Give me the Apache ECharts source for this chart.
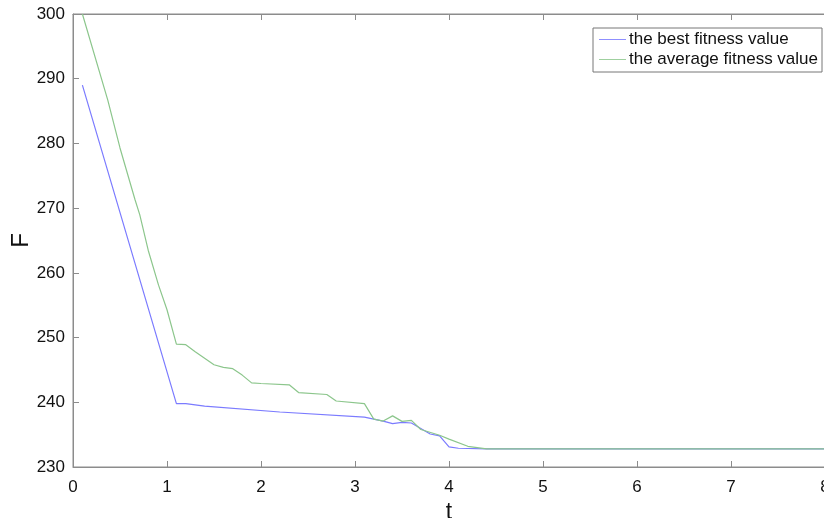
<!DOCTYPE html>
<html>
<head>
<meta charset="utf-8">
<script src="https://cdn.jsdelivr.net/npm/echarts@6/dist/echarts.min.js"></script>
<style>
  html, body { margin: 0; padding: 0; background: #fff; }
  #chart { width: 824px; height: 518px; }
</style>
</head>
<body>
<div id="chart"></div>
<script>
// values, [t, F]
const bestFitness = [
  [0.1, 289], [1.1, 239.8], [1.2, 239.8], [1.4, 239.4], [2.2, 238.5],
  [3.1, 237.7], [3.3, 237.1], [3.4, 236.7], [3.5, 236.9], [3.6, 236.8],
  [3.8, 235.1], [3.9, 234.8], [4.0, 233.1], [4.1, 232.9], [4.4, 232.8],
  [8, 232.8]
];
const avgFitness = [
  [0.1, 300], [0.37, 286.7], [0.5, 279.3], [0.66, 271.3], [0.71, 269.0],
  [0.8, 263.5], [0.91, 258.1], [1.0, 254.3], [1.1, 249.0], [1.2, 248.9],
  [1.3, 247.8], [1.5, 245.8], [1.6, 245.4], [1.7, 245.2], [1.8, 244.2],
  [1.9, 243.0], [2.0, 242.9], [2.3, 242.7], [2.4, 241.5], [2.7, 241.2],
  [2.8, 240.2], [3.1, 239.8], [3.2, 237.4], [3.3, 237.1], [3.4, 237.9],
  [3.5, 237.05], [3.6, 237.2], [3.7, 235.8], [3.9, 234.9], [4.0, 234.3],
  [4.2, 233.2], [4.4, 232.8], [8, 232.8]
];
const seriesNames = ['the best fitness value', 'the average fitness value'];

const chart = echarts.init(document.getElementById('chart'));

const axisGray = '#8c8c8c';
const fontFamily = 'Liberation Sans, Arial, sans-serif';
const labelFont = { color: '#111', fontSize: 17, fontFamily: fontFamily };

const option = {
  animation: false,
  backgroundColor: '#fff',
  grid: {
    left: 73, top: 14, width: 752, height: 453,
    outerBoundsMode: 'none', containLabel: false,
    show: true, borderColor: axisGray, borderWidth: 1
  },
  legend: {
    orient: 'vertical',
    left: 593,
    top: 28,
    data: seriesNames,
    icon: 'rect',
    itemWidth: 27,
    itemHeight: 1,
    itemGap: 3,
    padding: [3, 4, 4, 6],
    borderColor: '#777',
    borderWidth: 1,
    backgroundColor: '#fff',
    itemStyle: { borderWidth: 0 },
    textStyle: { color: '#111', fontSize: 17, fontFamily: fontFamily, padding: [0, 0, 0, -2] }
  },
  xAxis: [
    {
      type: 'value', min: 0, max: 8, interval: 1,
      name: 't', nameLocation: 'middle', nameGap: 29,
      nameTextStyle: { color: '#111', fontSize: 23, fontFamily: fontFamily },
      axisLine: { lineStyle: { color: axisGray } },
      axisTick: { inside: true, length: 6, lineStyle: { color: axisGray } },
      axisLabel: Object.assign({ margin: 12, showMaxLabel: true }, labelFont),
      splitLine: { show: false }
    },
    {
      type: 'value', min: 0, max: 8, interval: 1, position: 'top',
      axisLine: { lineStyle: { color: axisGray } },
      axisTick: { inside: true, length: 6, lineStyle: { color: axisGray } },
      axisLabel: { show: false },
      splitLine: { show: false }
    }
  ],
  yAxis: {
    type: 'value', min: 230, max: 300, interval: 10,
    name: 'F', nameLocation: 'middle', nameGap: 40, nameRotate: 90,
    nameMoveOverlap: false,
    nameTextStyle: { color: '#111', fontSize: 24, fontFamily: fontFamily },
    axisLine: { show: true, lineStyle: { color: axisGray } },
    axisTick: { show: true, inside: true, length: 6, lineStyle: { color: axisGray } },
    axisLabel: Object.assign({ margin: 8 }, labelFont),
    splitLine: { show: false }
  },
  series: [
    {
      name: seriesNames[0], type: 'line', data: bestFitness,
      showSymbol: false, symbol: 'none',
      lineStyle: { color: '#7b7bff', width: 1.2 },
      itemStyle: { color: '#8f8fff' }
    },
    {
      name: seriesNames[1], type: 'line', data: avgFitness,
      showSymbol: false, symbol: 'none',
      lineStyle: { color: '#8cc68c', width: 1.2 },
      itemStyle: { color: '#9fd09f' }
    }
  ]
};

chart.setOption(option);
</script>
</body>
</html>
